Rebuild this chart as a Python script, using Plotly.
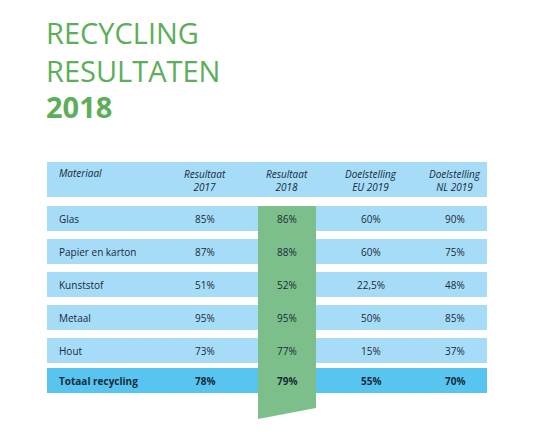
import plotly.graph_objects as go

materials = ['Glas', 'Papier en karton', 'Kunststof', 'Metaal', 'Hout', 'Totaal recycling']
res_2017 = ['85%', '87%', '51%', '95%', '73%', '78%']
res_2018 = ['86%', '88%', '52%', '95%', '77%', '79%']
doel_eu = ['60%', '60%', '22,5%', '50%', '15%', '55%']
doel_nl = ['90%', '75%', '48%', '85%', '37%', '70%']
headers = ['Materiaal', 'Resultaat<br>2017', 'Resultaat<br>2018', 'Doelstelling<br>EU 2019', 'Doelstelling<br>NL 2019']

W, H = 546, 432
OFF = 8  # page body margin
LIGHT = '#a6dcf7'
DARK = '#58c4f0'
GREEN = '#7cbf8a'
TITLE_GREEN = '#5dae5a'
FONT = 'Open Sans, Lato, sans-serif'

col_x = [57, 205, 287, 371, 455]
row_tops = [206, 239, 272, 305, 338, 368]
row_h = 25

fig = go.Figure()
shapes = []
ann = []

# header band
shapes.append(dict(type='rect', x0=47, x1=487, y0=162, y1=197, fillcolor=LIGHT, line_width=0, layer='below'))
for top, m in zip(row_tops, materials):
    fill = DARK if m.startswith('Totaal') else LIGHT
    shapes.append(dict(type='rect', x0=47, x1=487, y0=top, y1=top + row_h, fillcolor=fill, line_width=0, layer='below'))

# green band for 2018 column
shapes.append(dict(type='path', path='M 258 206 L 316 206 L 316 408 L 258 419 Z',
                   fillcolor=GREEN, line_width=0, layer='below'))

for i, h in enumerate(headers):
    ann.append(dict(x=col_x[i], y=180, text='<i>' + h + '</i>', showarrow=False,
                    xanchor='left' if i == 0 else 'center', yanchor='middle',
                    font=dict(size=10, color='#1a2a3a', family=FONT),
                    align='left' if i == 0 else 'center',
                    yshift=7 if i == 0 else 0))

for r, top in enumerate(row_tops):
    bold = materials[r].startswith('Totaal')
    vals = [materials[r], res_2017[r], res_2018[r], doel_eu[r], doel_nl[r]]
    for i, v in enumerate(vals):
        t = '<b>' + v + '</b>' if bold else v
        ann.append(dict(x=col_x[i], y=top + row_h / 2, text=t, showarrow=False,
                        xanchor='left' if i == 0 else 'center', yanchor='middle',
                        font=dict(size=10, color='#1a2a3a', family=FONT)))

# title
for txt, y, b in [('RECYCLING', 32, False), ('RESULTATEN', 70, False), ('2018', 106, True)]:
    ann.append(dict(x=44, y=y, text='<b>' + txt + '</b>' if b else txt, showarrow=False,
                    xanchor='left', yanchor='middle',
                    font=dict(size=29, color=TITLE_GREEN, family=FONT)))

fig.update_layout(
    width=W, height=H, margin=dict(l=0, r=0, t=0, b=0),
    paper_bgcolor='white', plot_bgcolor='white',
    xaxis=dict(range=[OFF, W + OFF], visible=False, fixedrange=True),
    yaxis=dict(range=[H + OFF, OFF], visible=False, fixedrange=True),
    shapes=shapes, annotations=ann, showlegend=False,
)

fig.write_html("out.html")
